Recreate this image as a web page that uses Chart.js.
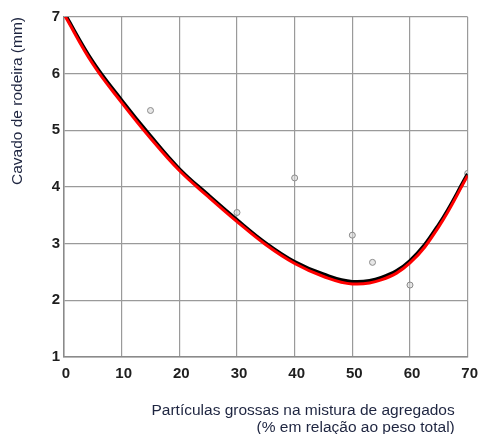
<!DOCTYPE html>
<html>
<head>
<meta charset="utf-8">
<script src="https://cdn.jsdelivr.net/npm/chart.js@4/dist/chart.umd.min.js"></script>
<style>
  html, body { margin: 0; padding: 0; background: #ffffff; }
  #wrap { width: 484px; height: 434px; }
</style>
</head>
<body>
<div id="wrap"><canvas id="c" width="484" height="434"></canvas></div>
<script>
// ---- data ----
const fitX = [0, 5, 10, 15, 20, 25, 30, 35, 40, 45, 50, 55, 60, 65, 70];
const redFit = [7.05, 6.17, 5.49, 4.86, 4.29, 3.83, 3.39, 2.98, 2.65, 2.42, 2.29, 2.36, 2.66, 3.30, 4.20];
const blackFit = [7.08, 6.21, 5.53, 4.90, 4.32, 3.86, 3.42, 3.01, 2.68, 2.46, 2.33, 2.40, 2.70, 3.34, 4.23];
const measuredX = [0, 15, 30, 40, 50, 53.5, 60, 70];
const measuredY = [7.05, 5.35, 3.55, 4.16, 3.15, 2.67, 2.27, 4.24];
const xTicks = [0, 10, 20, 30, 40, 50, 60, 70];
const yTicks = [1, 2, 3, 4, 5, 6, 7];
const yTitle = 'Cavado de rodeira (mm)';
const xTitle = ['Partículas grossas na mistura de agregados   ', '(% em relação ao peso total)   '];

const toPts = (xs, ys) => xs.map((x, i) => ({ x: x, y: ys[i] }));

new Chart(document.getElementById('c'), {
  type: 'line',
  data: {
    datasets: [
      {
        label: 'red',
        data: toPts(fitX, redFit),
        borderColor: '#ff0000',
        borderWidth: 3,
        pointRadius: 0,
        tension: 0.4,
        fill: false
      },
      {
        label: 'black',
        data: toPts(fitX, blackFit),
        borderColor: '#000000',
        borderWidth: 3.5,
        pointRadius: 0,
        tension: 0.4,
        fill: false
      },
      {
        label: 'measured',
        data: toPts(measuredX, measuredY),
        showLine: false,
        pointRadius: 3,
        pointBorderWidth: 1,
        pointBorderColor: '#8a8a8a',
        pointBackgroundColor: 'rgba(215,215,215,0.6)'
      }
    ]
  },
  options: {
    responsive: false,
    animation: false,
    events: [],
    layout: { padding: { top: 17, right: 12, left: 0, bottom: 0 } },
    plugins: { legend: { display: false }, tooltip: { enabled: false } },
    scales: {
      x: {
        type: 'linear',
        min: 0, max: 70,
        afterBuildTicks: (s) => { s.ticks = xTicks.map(v => ({ value: v })); },
        afterFit: (s) => { s.height = 77; },
        grid: { color: '#9a9a9a', lineWidth: 1.2, drawTicks: false },
        border: { color: '#8a8a8a', width: 1.5 },
        ticks: {
          padding: 8,
          labelOffset: 2,
          color: '#1e1e1e',
          font: { family: 'Liberation Sans, Arial, sans-serif', size: 15, weight: 'bold' }
        },
        title: {
          display: true,
          text: xTitle,
          align: 'end',
          color: '#1e2540',
          padding: { top: 0, bottom: -2.5 },
          font: { family: 'Liberation Sans, Arial, sans-serif', size: 15.5, lineHeight: 1.1 }
        }
      },
      y: {
        type: 'linear',
        min: 1, max: 7,
        afterBuildTicks: (s) => { s.ticks = yTicks.map(v => ({ value: v })); },
        afterFit: (s) => { s.width = 64; },
        grid: { color: '#9a9a9a', lineWidth: 1.2, drawTicks: false },
        border: { color: '#8a8a8a', width: 1.5 },
        ticks: {
          padding: 4,
          color: '#1e1e1e',
          font: { family: 'Liberation Sans, Arial, sans-serif', size: 15, weight: 'bold' }
        },
        title: {
          display: true,
          text: yTitle,
          align: 'end',
          color: '#1e2540',
          padding: { top: 9.5, bottom: 0 },
          font: { family: 'Liberation Sans, Arial, sans-serif', size: 15.5, lineHeight: 1.1 }
        }
      }
    }
  }
});
</script>
</body>
</html>
